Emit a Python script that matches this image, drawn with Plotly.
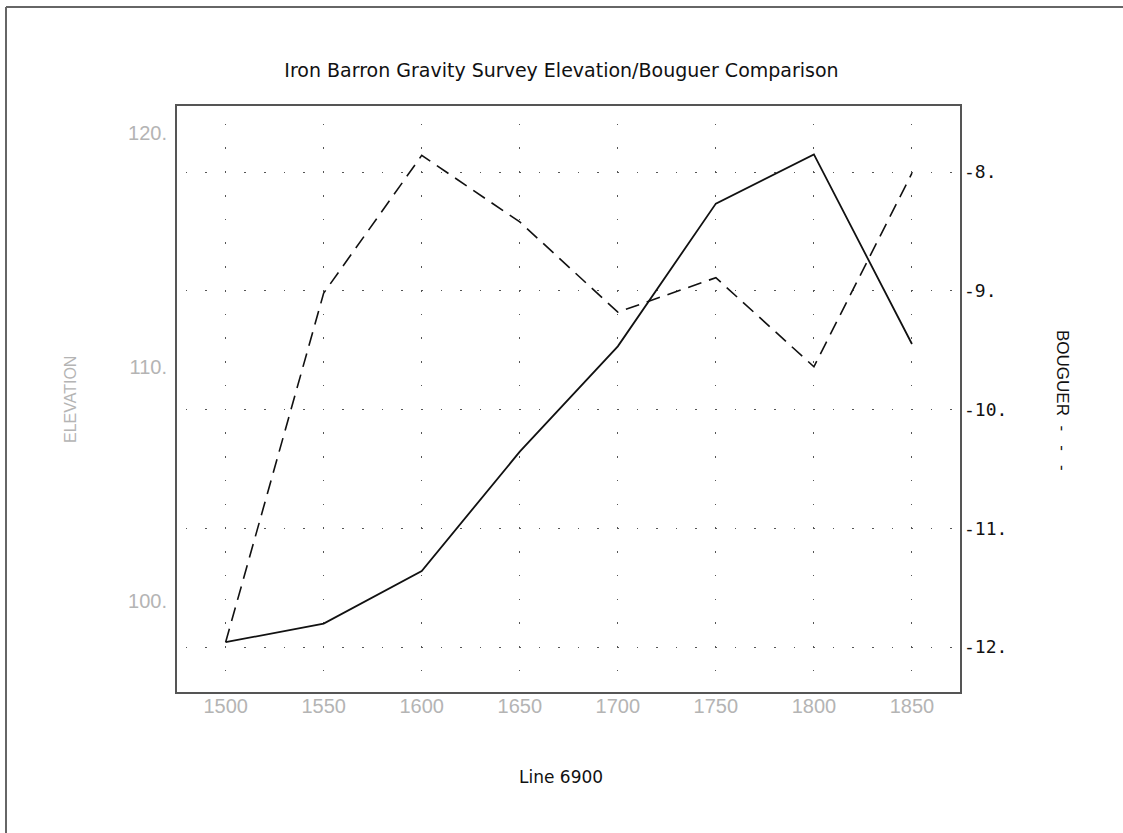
import plotly.graph_objects as go

# ---- data ----
line_x = [1500, 1550, 1600, 1650, 1700, 1750, 1800, 1850]
elevation = [98.26, 99.05, 101.3, 106.4, 110.9, 117.0, 119.1, 111.0]
bouguer = [-11.96, -9.02, -7.86, -8.42, -9.18, -8.89, -9.64, -8.01]

x_ticks = [1500, 1550, 1600, 1650, 1700, 1750, 1800, 1850]
x_ticktext = ["1500", "1550", "1600", "1650", "1700", "1750", "1800", "1850"]
elev_ticks = [100, 110, 120]
elev_ticktext = ["100.", "110.", "120."]
boug_ticks = [-8, -9, -10, -11, -12]
boug_ticktext = ["-8.", "-9.", "-10.", "-11.", "-12."]

# ---- layout geometry (pixels) ----
W, H = 1123, 833
L, R, T, B = 177, 960, 106, 692
xr = [1475.2, 1874.5]
yr_elev = [96.13, 121.17]
yr_boug = [-12.379, -7.444]

pw, ph = R - L, B - T


def px_x(px):
    return (px - L) / pw


def px_y(py):
    return (B - py) / ph


# dotted grid patterns (dot phase aligned with ticks)
ppu_b = ph / (yr_boug[1] - yr_boug[0])
per_v = 0.2 * ppu_b
y_m8 = (yr_boug[1] - (-8)) * ppu_b
off_v = y_m8 % per_v
if off_v < 1.5:
    off_v += per_v
dot = 1.6
x_griddash = f"0px,{off_v - dot/2:.2f}px,{dot}px,{per_v - off_v - dot/2:.2f}px"

ppu_x = pw / (xr[1] - xr[0])
per_h = 10 * ppu_x
x_1500 = (1500 - xr[0]) * ppu_x
off_h = x_1500 % per_h
if off_h < 1.5:
    off_h += per_h
y_griddash = f"0px,{off_h - dot/2:.2f}px,{dot}px,{per_h - off_h - dot/2:.2f}px"

gray_font = dict(family="Liberation Sans", size=20, color="#b4b4b4")
black_font = dict(family="DejaVu Sans Mono", size=18, color="#111111")

fig = go.Figure()
fig.add_trace(go.Scatter(x=line_x, y=elevation, mode="lines",
                         line=dict(color="#111111", width=1.8),
                         yaxis="y", hoverinfo="skip"))
fig.add_trace(go.Scatter(x=line_x, y=bouguer, mode="lines",
                         line=dict(color="#111111", width=1.6, dash="14px,8px"),
                         yaxis="y2", hoverinfo="skip"))

fig.update_layout(
    width=W, height=H,
    margin=dict(l=L, r=W - R, t=T, b=H - B, pad=0),
    paper_bgcolor="white", plot_bgcolor="white",
    showlegend=False, hovermode=False,
    title=dict(text="Iron Barron Gravity Survey Elevation/Bouguer Comparison",
               font=dict(family="DejaVu Sans", size=19, color="#111111"),
               x=0.5, xref="container", xanchor="center",
               y=1 - 70 / H, yref="container", yanchor="middle"),
    xaxis=dict(range=xr, tickvals=x_ticks, ticktext=x_ticktext,
               tickfont=gray_font, ticks="", showline=True, mirror=True,
               linecolor="#555555", linewidth=2, zeroline=False,
               showgrid=True, gridcolor="#555555", gridwidth=1.3,
               griddash=x_griddash, ticklabelstandoff=-5),
    yaxis=dict(range=yr_elev, tickvals=elev_ticks, ticktext=elev_ticktext,
               tickfont=gray_font, ticks="", showline=True, mirror=True,
               linecolor="#555555", linewidth=2, zeroline=False,
               showgrid=False, ticklabelstandoff=4),
    yaxis2=dict(range=yr_boug, tickvals=boug_ticks, ticktext=boug_ticktext,
                tickfont=black_font, ticks="", overlaying="y", side="right",
                showline=False, zeroline=False,
                showgrid=True, gridcolor="#555555", gridwidth=1.3,
                griddash=y_griddash, ticklabelstandoff=3),
    annotations=[
        dict(text="Line 6900", x=px_x(561), y=px_y(777), xref="paper", yref="paper",
             showarrow=False, xanchor="center", yanchor="middle",
             font=dict(family="DejaVu Sans", size=17, color="#111111")),
        dict(text="ELEVATION", x=px_x(70), y=px_y(400), xref="paper", yref="paper",
             showarrow=False, xanchor="center", yanchor="middle", textangle=-90,
             font=dict(family="Liberation Sans", size=16, color="#b4b4b4")),
        dict(text="BOUGUER\u00a0\u00a0-\u00a0\u00a0\u00a0-\u00a0\u00a0\u00a0-", x=px_x(1063), y=px_y(400),
             xref="paper", yref="paper",
             showarrow=False, xanchor="center", yanchor="middle", textangle=90,
             font=dict(family="Liberation Sans", size=17, color="#111111")),
    ],
    shapes=[
        dict(type="line", xref="paper", yref="paper",
             x0=px_x(6), y0=px_y(7), x1=px_x(6), y1=px_y(840),
             line=dict(color="#666666", width=2)),
        dict(type="line", xref="paper", yref="paper",
             x0=px_x(6), y0=px_y(7), x1=px_x(1130), y1=px_y(7),
             line=dict(color="#666666", width=2)),
    ],
)

fig.write_html("out.html", config={"displayModeBar": False},
               post_script="document.body.style.margin='0';")
